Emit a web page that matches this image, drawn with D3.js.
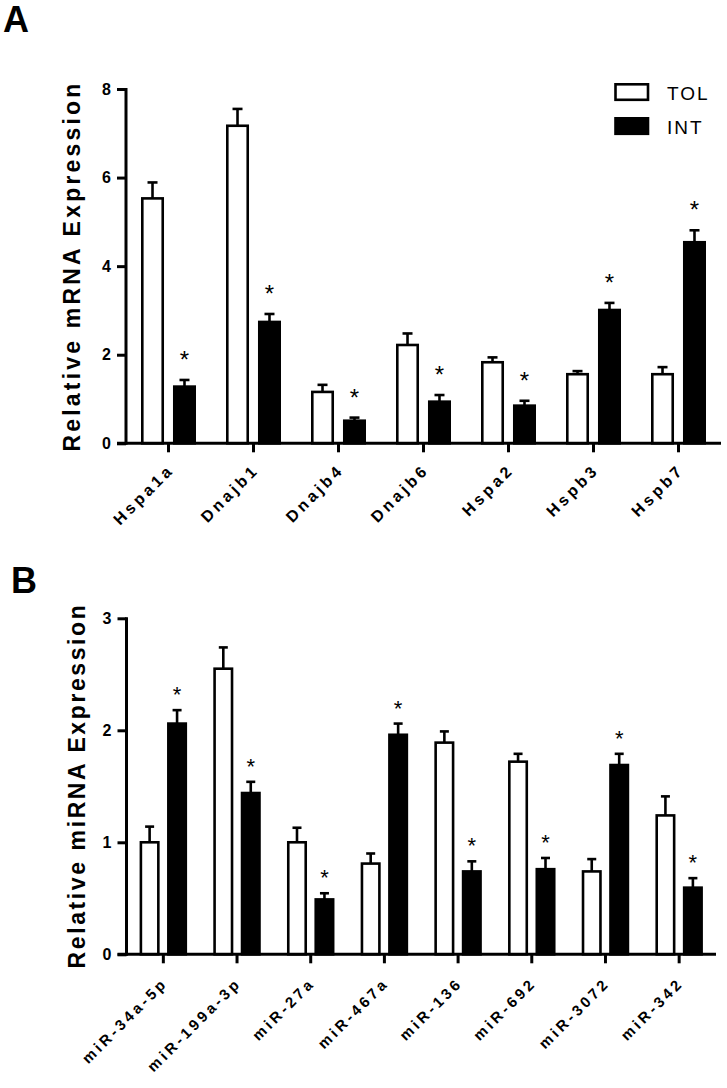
<!DOCTYPE html>
<html><head><meta charset="utf-8">
<script src="https://cdn.jsdelivr.net/npm/d3@7"></script>
<style>
body{margin:0;background:#fff;}
svg{display:block;font-family:"Liberation Sans",Arial,sans-serif;}
</style></head>
<body><svg id="c" width="727" height="1088"></svg>
<script>
// ---- Data ----
const seriesKeys = ["TOL", "INT"];
const genesA = ["Hspa1a", "Dnajb1", "Dnajb4", "Dnajb6", "Hspa2", "Hspb3", "Hspb7"];
const tolA = [5.53, 7.17, 1.16, 2.22, 1.83, 1.56, 1.56];
const tolAErr = [0.36, 0.38, 0.16, 0.26, 0.11, 0.07, 0.16];
const intA = [1.28, 2.74, 0.51, 0.94, 0.85, 3.01, 4.54];
const intAErr = [0.15, 0.18, 0.07, 0.15, 0.11, 0.16, 0.27];
const sigA = [true, true, true, true, true, true, true];
const ticksA = [0, 2, 4, 6, 8];

const mirsB = ["miR-34a-5p", "miR-199a-3p", "miR-27a", "miR-467a", "miR-136", "miR-692", "miR-3072", "miR-342"];
const tolB = [1.0, 2.55, 1.0, 0.81, 1.89, 1.72, 0.74, 1.24];
const tolBErr = [0.14, 0.19, 0.13, 0.09, 0.10, 0.07, 0.11, 0.17];
const intB = [2.06, 1.44, 0.49, 1.96, 0.74, 0.76, 1.69, 0.595];
const intBErr = [0.12, 0.10, 0.055, 0.10, 0.09, 0.10, 0.10, 0.085];
const sigB = [true, true, true, true, true, true, true, true];
const ticksB = [0, 1, 2, 3];

const svg = d3.select("#c");
const FONT = '"Liberation Sans",Arial,sans-serif';

function panel(o) {
  const g = svg.append("g");
  const y = d3.scaleLinear().domain(o.yDomain).range([o.y0, o.y1]);
  const x0 = d3.scaleBand().domain(o.cats).range([o.xL, o.xR]).paddingInner(0).paddingOuter(0);
  const x1 = d3.scaleBand().domain(seriesKeys)
    .range([x0.bandwidth() / 2 - o.groupW / 2, x0.bandwidth() / 2 + o.groupW / 2])
    .paddingInner(o.innerPad);
  const rows = o.cats.map((c, i) => ({
    cat: c, sig: o.sig[i],
    vals: [
      {key: "TOL", v: o.tol[i], e: o.tolErr[i]},
      {key: "INT", v: o.int[i], e: o.intErr[i]}
    ]
  }));
  const sw = 2.6;
  const grp = g.selectAll("g.cat").data(rows).join("g")
    .attr("transform", d => `translate(${x0(d.cat)},0)`);
  grp.selectAll("g.err").data(d => d.vals).join("g").each(function(d) {
    const cx = x1(d.key) + x1.bandwidth() / 2;
    const s = d3.select(this);
    s.append("line").attr("x1", cx).attr("x2", cx).attr("y1", y(d.v)).attr("y2", y(d.v + d.e))
      .attr("stroke", "#000").attr("stroke-width", sw);
    s.append("line").attr("x1", cx - o.capW / 2).attr("x2", cx + o.capW / 2)
      .attr("y1", y(d.v + d.e)).attr("y2", y(d.v + d.e))
      .attr("stroke", "#000").attr("stroke-width", sw);
  });
  grp.selectAll("rect").data(d => d.vals).join("rect")
    .attr("x", d => x1(d.key) + sw / 2)
    .attr("width", x1.bandwidth() - sw)
    .attr("y", d => y(d.v))
    .attr("height", d => y(0) - y(d.v))
    .attr("fill", d => d.key === "TOL" ? "#fff" : "#000")
    .attr("stroke", "#000").attr("stroke-width", sw);
  grp.filter(d => d.sig).append("text")
    .attr("x", d => x1("INT") + x1.bandwidth() / 2)
    .attr("y", d => y(d.vals[1].v + d.vals[1].e) - o.starOff)
    .attr("text-anchor", "middle")
    .attr("font-size", o.starSize).attr("fill", "#000")
    .text("*");

  // axes
  const ya = g.append("g").attr("transform", `translate(${o.xL},0)`)
    .call(d3.axisLeft(y).tickValues(o.ticks).tickFormat(d3.format("d")).tickSize(9).tickSizeOuter(0).tickPadding(6));
  ya.select(".domain").attr("stroke-width", 3).attr("d", `M0,${o.y0 + 1.5}V${o.y1 - 1}`);
  ya.selectAll(".tick line").attr("stroke-width", 3);
  ya.selectAll(".tick text").attr("font-size", 16).attr("font-weight", "bold")
    .attr("font-family", FONT).attr("fill", "#000");

  const xa = g.append("g").attr("transform", `translate(0,${o.y0})`)
    .call(d3.axisBottom(x0).tickSize(9).tickSizeOuter(0).tickFormat(""));
  xa.select(".domain").attr("stroke-width", 3).attr("d", `M${o.xL - 9},0H${o.xR}`);
  xa.selectAll(".tick line").attr("stroke-width", 3);
  xa.selectAll(".tick text").remove();

  // rotated category labels
  g.selectAll("text.xl").data(o.cats).join("text").attr("class", "xl")
    .attr("transform", d => `translate(${x0(d) + x0.bandwidth() / 2 + o.lblDx},${o.y0 + o.lblDy}) rotate(-45)`)
    .attr("text-anchor", "end")
    .attr("x", o.xLS)
    .attr("font-size", o.xFont).attr("font-weight", "bold")
    .attr("letter-spacing", o.xLS).attr("fill", "#000")
    .text(d => d);

  // y title
  g.append("text")
    .attr("transform", `translate(${o.titleX},${o.titleY}) rotate(-90)`)
    .attr("text-anchor", "middle")
    .attr("font-size", 23).attr("font-weight", "bold").attr("letter-spacing", o.titleLS)
    .attr("fill", "#000")
    .text(o.title);

  g.append("text").attr("x", o.letterX).attr("y", o.letterY)
    .attr("font-size", 36).attr("font-weight", "bold").attr("fill", "#000").text(o.letter);
  return {g, x0, x1, y};
}

panel({
  cats: genesA, tol: tolA, tolErr: tolAErr, int: intA, intErr: intAErr, sig: sigA,
  yDomain: [0, 8], ticks: ticksA, y0: 443.3, y1: 89, xL: 126, xR: 721,
  groupW: 55, innerPad: 0.28, capW: 10, starOff: 12, starSize: 24,
  xFont: 16, xLS: 3.5, lblDx: 4, lblDy: 30,
  title: "Relative mRNA Expression", titleX: 80, titleY: 266, titleLS: 3.2,
  letter: "A", letterX: 3, letterY: 32
});

panel({
  cats: mirsB, tol: tolB, tolErr: tolBErr, int: intB, intErr: intBErr, sig: sigB,
  yDomain: [0, 3], ticks: ticksB, y0: 954.3, y1: 618.3, xL: 126.5, xR: 716,
  groupW: 47.5, innerPad: 0.27, capW: 9, starOff: 8, starSize: 22,
  xFont: 15, xLS: 3.3, lblDx: 3, lblDy: 32,
  title: "Relative miRNA Expression", titleX: 85, titleY: 785.5, titleLS: 2.6,
  letter: "B", letterX: 11, letterY: 593
});

// legend (panel A)
const leg = svg.append("g");
const legItems = [{k: "TOL", y: 83}, {k: "INT", y: 117}];
leg.selectAll("rect").data(legItems).join("rect")
  .attr("x", 615.5).attr("y", d => d.y + 1.3).attr("width", 32.5).attr("height", 15.5)
  .attr("fill", d => d.k === "TOL" ? "#fff" : "#000")
  .attr("stroke", "#000").attr("stroke-width", 2.6);
leg.selectAll("text").data(legItems).join("text")
  .attr("x", 667).attr("y", d => d.y + 17)
  .attr("font-size", 19).attr("letter-spacing", 2).attr("fill", "#000")
  .text(d => d.k);
</script>
</body></html>
